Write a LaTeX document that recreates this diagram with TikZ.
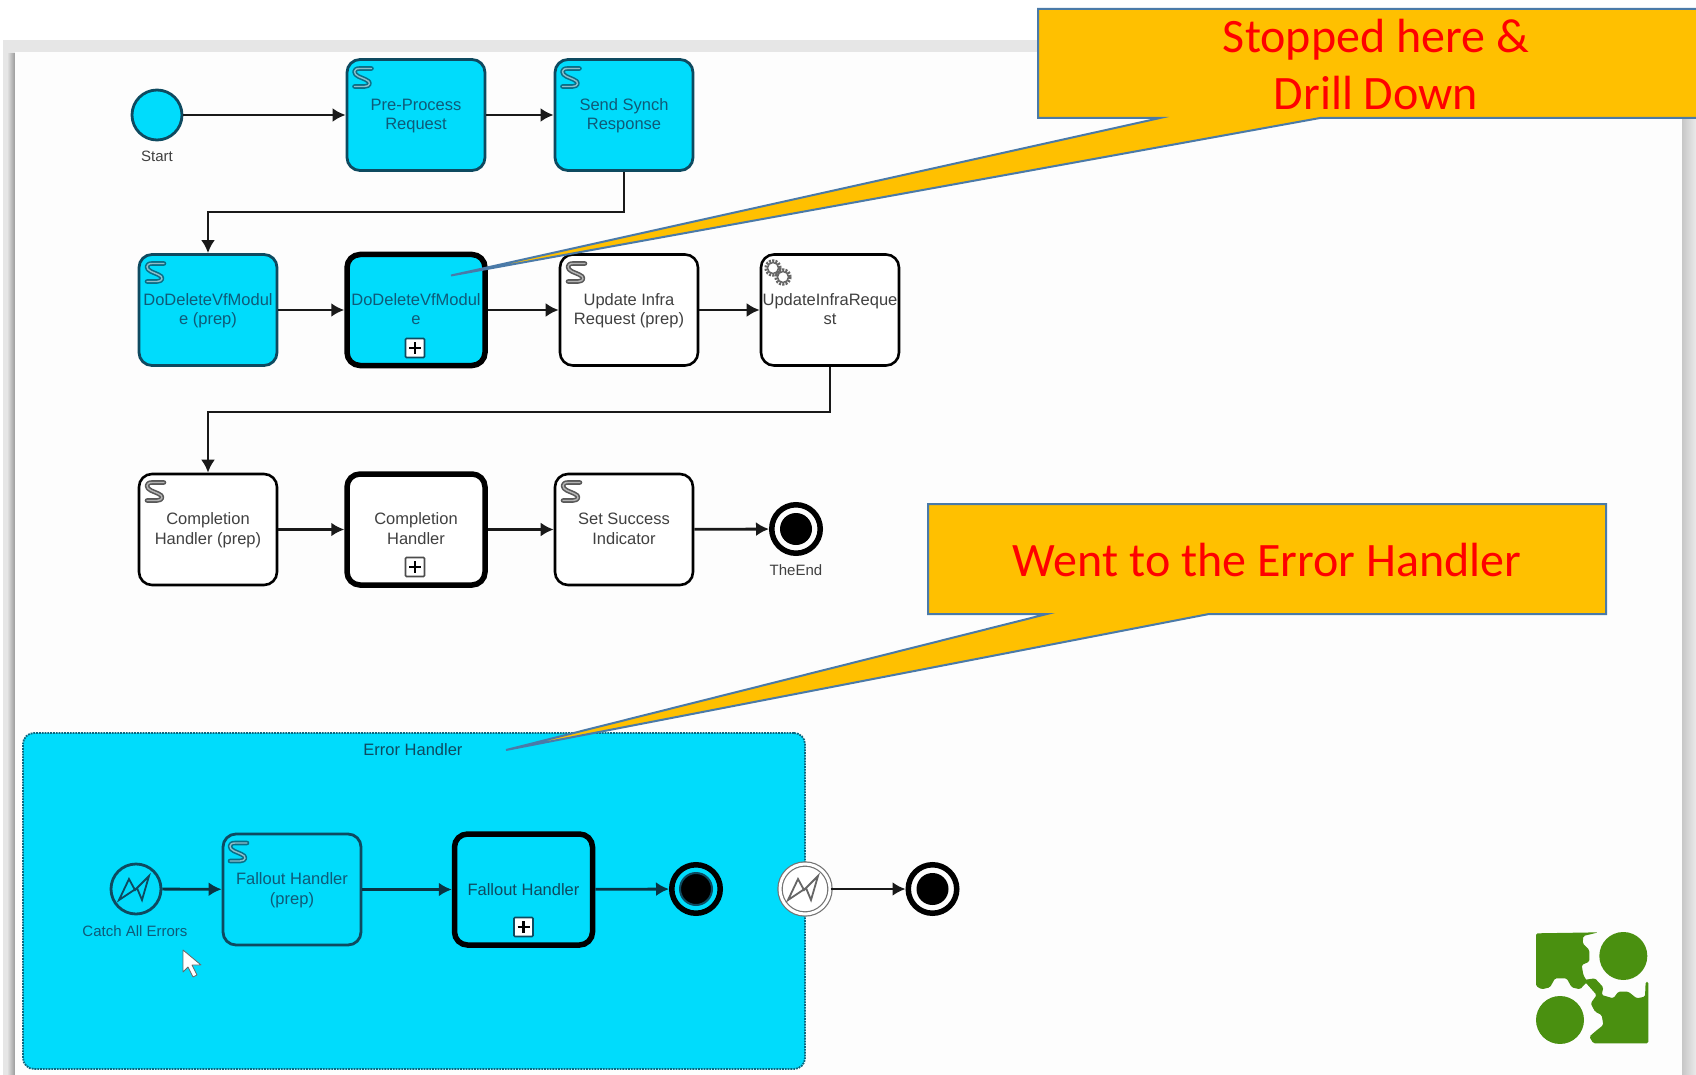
\documentclass[tikz,border=0pt]{standalone}
\usepackage{fontspec}
\setmainfont{Liberation Sans}
\newfontfamily\callfont{Carlito}
\usetikzlibrary{arrows.meta}
\definecolor{cy}{HTML}{00DCFC}
\definecolor{cyedge}{HTML}{0E4A60}
\definecolor{cytext}{HTML}{0F5A78}
\definecolor{whtext}{HTML}{404040}
\definecolor{orangefill}{HTML}{FFC000}
\definecolor{orangeedge}{HTML}{4A7AA8}
\definecolor{leaf}{HTML}{4A9010}
\definecolor{bandgray}{HTML}{E6E6E6}
\definecolor{panelwhite}{HTML}{FDFDFD}
\newcommand{\twolines}[2]{\rule{0pt}{14pt}#1\\#2\rule[-4pt]{0pt}{4pt}}
\tikzset{
  x=1pt,y=-1pt,
  task/.style={draw=#1,rounded corners=13pt,minimum width=138pt,minimum height=111pt,align=center,inner sep=0pt,font=\fontsize{16.5}{19.5}\selectfont},
  task/.default=black,
  plain/.style={task,line width=2.6pt,fill=white,text=whtext},
  plainthick/.style={plain,line width=5.5pt},
  cyantask/.style={task=cyedge,line width=2.8pt,fill=cy,text=cytext},
  cyanthick/.style={cyantask,draw=black,line width=5.5pt},
  flow/.style={line width=2.8pt,draw=#1,-{Latex[length=13pt,width=14pt]}},
  flow/.default=black!90,
  ev/.style={circle,minimum size=50pt,inner sep=0pt,line width=2.8pt},
  endring/.style={circle,minimum size=48.5pt,inner sep=0pt,line width=5.5pt,draw=black},
  endcore/.style={circle,fill=black,minimum size=32pt,inner sep=0pt},
  small/.style={font=\fontsize{15}{17}\selectfont,inner sep=0pt},
  callbox/.style={draw=orangeedge,line width=2pt,fill=orangefill,line join=miter},
  calltext/.style={text=red,font=\callfont\fontsize{48}{57}\selectfont,align=center,inner sep=0pt},
  plusmark/.style={draw=#1,line width=1.6pt,fill=white,minimum size=19pt,inner sep=0pt,rounded corners=1pt,
    path picture={\draw[black,line width=2.2pt] (path picture bounding box.north) ++(0,3.5) -- ++(0,12)
       (path picture bounding box.west) ++(3.5,0) -- ++(12,0);}},
  scriptmark/.pic={
    \draw[#1,line width=4.6pt,line cap=round,line join=round] (9,-9) -- (-3,-9) .. controls (-10,-9) and (-9,-3) .. (-4,-1) -- (3,2) .. controls (9,4) and (8,9) .. (2,9) -- (-8,9);
    \draw[white,opacity=.55,line width=1.4pt,line cap=round,line join=round] (9,-9) -- (-3,-9) .. controls (-10,-9) and (-9,-3) .. (-4,-1) -- (3,2) .. controls (9,4) and (8,9) .. (2,9) -- (-8,9);
  },
  boltmark/.pic={
    \draw[#1,line width=1.8pt,line join=miter] (-17,11) -- (-7,-10) -- (-1,1) -- (13,-13) -- (6,11) -- (1,-1) -- cycle;
  },
}
\begin{document}
\begin{tikzpicture}
\useasboundingbox (0,0) rectangle (1696,1075);
\clip (0,0) rectangle (1696,1075);
% frame
\fill[white] (0,0) rectangle (1696,1075);
\fill[bandgray] (3,40) rectangle (1696,1075);
\shade[left color=bandgray,right color=black!40] (7,54) rectangle (15,1075);
\shade[left color=black!22,right color=black!8] (1682,52) rectangle (1696,1075);
\fill[panelwhite] (15,52) rectangle (1682,1075);

% error handler
\node[draw=cyedge!80!cy,densely dotted,line width=1.8pt,fill=cy,rounded corners=11pt,minimum width=782pt,minimum height=336pt,inner sep=0pt] (eh) at (414,901) {};
\node[font=\fontsize{16.5}{20}\selectfont,text=cyedge,inner sep=0pt] (ehtitle) at (413,750) {Error Handler};

% row 1
\node[ev,draw=cyedge,fill=cy] (start) at (157,115) {};
\node[small,text=whtext] (startl) at (157,156) {Start};
\node[cyantask] (pre) at (416,115) {\twolines{Pre-Process}{Request}};
\node[cyantask] (send) at (624,115) {\twolines{Send Synch}{Response}};
% row 2
\node[cyantask] (dp) at (208,310) {\twolines{DoDeleteVfModul}{e (prep)}};
\node[cyanthick] (dd) at (416,310) {\twolines{DoDeleteVfModul}{e}};
\node[plain] (up) at (629,310) {\twolines{Update Infra}{Request (prep)}};
\node[plain] (ui) at (830,310) {\twolines{UpdateInfraReque}{st}};
% row 3
\node[plain] (cp) at (208,529.5) {\twolines{Completion}{Handler (prep)}};
\node[plainthick] (ch) at (416,529.5) {\twolines{Completion}{Handler}};
\node[plain] (ss) at (624,529.5) {\twolines{Set Success}{Indicator}};
\node[endring] (te) at (796,529) {};
\node[endcore] (tecore) at (796,529) {};
\node[small,text=whtext] (tel) at (796,570) {TheEnd};
% error row
\node[ev,draw=cyedge] (catch) at (136,889) {};
\node[small,text=cytext] (catchl) at (135,931) {Catch All Errors};
\node[task=cyedge,line width=2.8pt,text=cytext] (fp) at (292,889.5) {\twolines{Fallout Handler}{(prep)}};
\node[task=black,line width=5.5pt,text=cyedge] (fh) at (523.5,889.5) {Fallout Handler};
\node[endring,draw=black,fill=cy] (e1) at (696,889) {};
\node[circle,draw=cyedge,line width=2pt,fill=black,minimum size=32pt,inner sep=0pt] (e1core) at (696,889) {};
\node[circle,minimum size=50pt,inner sep=0pt,draw=black!55,line width=1.2pt,fill=white,double=white,double distance=3pt] (be) at (805,889) {};
\node[endring] (e2) at (932.5,889) {};
\node[endcore] (e2core) at (932.5,889) {};

% lightning marks
\pic at (136,889) {boltmark=cyedge};
\pic at (805,889) {boltmark=black!60};

% connectors
\coordinate (b1) at (208,212);
\coordinate (b2) at (208,412);
\draw[flow] (start) -- (pre);
\draw[flow] (pre) -- (send);
\draw[flow] (send.south) |- (b1) -- (dp.north);
\draw[flow] (dp) -- (dd);
\draw[flow] (dd) -- (up);
\draw[flow] (up) -- (ui);
\draw[flow] (ui.south) |- (b2) -- (cp.north);
\draw[flow] (cp) -- (ch);
\draw[flow] (ch) -- (ss);
\draw[flow] (ss) -- (te);
\draw[flow=cyedge!70!black] (catch) -- (fp);
\draw[flow=cyedge!70!black] (fp) -- (fh);
\draw[flow=cyedge!70!black] (fh) -- (e1);
\draw[flow] (be) -- (e2);

% task markers
\pic at (362.5,77.5) {scriptmark=cyedge!75!cy};
\pic at (570.5,77.5) {scriptmark=cyedge!75!cy};
\pic at (155,272.5) {scriptmark=cyedge!75!cy};
\pic at (576,272.5) {scriptmark=black!65};
\pic at (155,491.5) {scriptmark=black!65};
\pic at (571,491.5) {scriptmark=black!65};
\pic at (238,852) {scriptmark=cyedge!75!cy};
\node[plusmark=cyedge] (p1) at (415,348) {};
\node[plusmark=black!70] (p2) at (415,567) {};
\node[plusmark=cyedge] (p3) at (523.5,927) {};

% service gear marker
\foreach \cx/\cy/\rr in {773/268/7,783/277/7}{
  \draw[black!60,line width=3.4pt,dash pattern=on 2pt off 1.2pt] (\cx,\cy) circle[radius=\rr];
  \draw[black!60,line width=1.4pt,fill=white] (\cx,\cy) circle[radius=\rr-1.5];
}

% cursor
\draw[black!60,line width=.8pt,fill=white,line join=round] (183,950) -- (183,972) -- (188,967) -- (193,977) -- (197,975) -- (192,965) -- (201,965) -- cycle;

% logo
\begin{scope}[shift={(1500,900)},x=.3333pt,y=-.3333pt]
\fill[leaf,rounded corners=1.5pt] (108,100) -- (295,97) -- (250,108) -- (248,130) -- (268,150) -- (268,185) -- (245,195) -- (250,225) -- (262,245) -- (240,268) -- (215,262) -- (200,235) -- (165,235) -- (150,262) -- (125,268) -- (108,258) -- cycle;
\fill[leaf,rounded corners=1.5pt] (445,245) -- (445,430) -- (280,430) -- (268,410) -- (285,395) -- (310,375) -- (305,345) -- (285,335) -- (272,310) -- (290,285) -- (250,240) -- (285,235) -- (310,262) -- (305,285) -- (340,295) -- (355,275) -- (385,275) -- (410,295) -- (435,290) -- (437,245) -- cycle;
\fill[leaf] (370,168) circle[radius=72];
\fill[leaf] (180,360) circle[radius=72];
\end{scope}

% callouts
\coordinate (tip1) at (451,275.5);
\coordinate (tip2) at (506,750);
\draw[callbox] (1038,9) -- (1700,9) -- (1700,118) -- (1320,118) -- (tip1) -- (1160,118) -- (1038,118) -- cycle;
\node[calltext] (c1) at (1376,65) {Stopped here \&\\Drill Down};
\draw[callbox] (928,504) -- (1606,504) -- (1606,614) -- (1209,614) -- (tip2) -- (1047,614) -- (928,614) -- cycle;
\node[calltext] (c2) at (1267,560) {Went to the Error Handler};
\end{tikzpicture}
\end{document}
